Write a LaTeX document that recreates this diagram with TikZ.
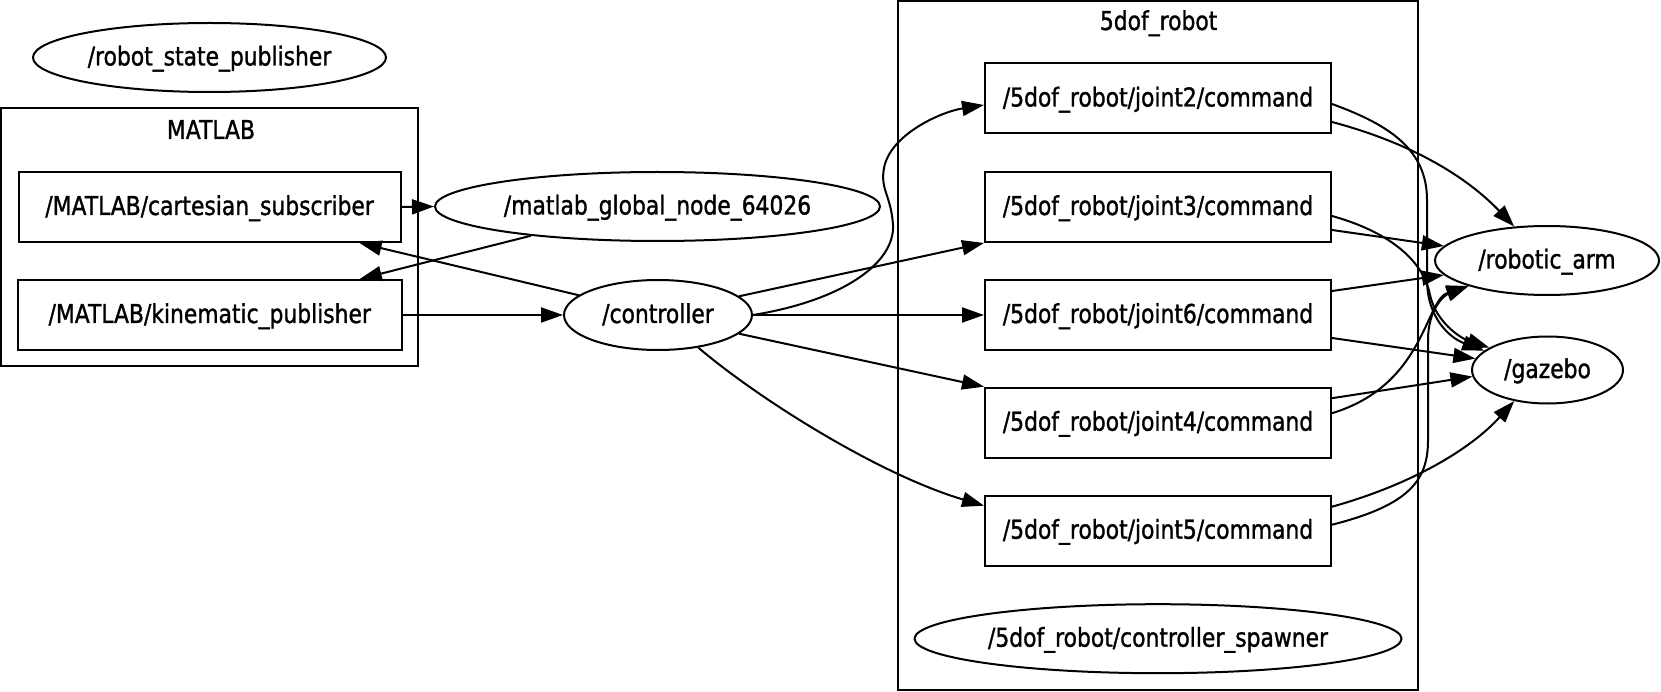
\documentclass[tikz,border=0pt]{standalone}
\usepackage{fontspec}
\setmainfont{DejaVu Sans}[FakeStretch=0.84,FakeBold=1.2]
\usetikzlibrary{shapes.geometric,arrows.meta,calc}
\begin{document}
\begin{tikzpicture}[x=1pt,y=-1pt,
  every node/.style={font=\fontsize{26pt}{30pt}\selectfont, text height=19pt, text depth=3pt, inner sep=0pt, line width=2pt},
  boxn/.style={draw, rectangle, minimum width=346pt, minimum height=70pt},
  elln/.style={draw, ellipse},
  edge/.style={line width=2pt, -{Triangle[length=22pt,width=15pt]}},
  clus/.style={draw, line width=2pt}]
\useasboundingbox (0,0) rectangle (1661,692);
% clusters
\draw[clus] (1,108) rectangle (418,366);
\node (matlablbl) at (211,131) {MATLAB};
\draw[clus] (898,1) rectangle (1418,690);
\node (robotlbl) at (1158.6,22) {5dof\_robot};
% nodes
\node[elln, minimum width=353pt, minimum height=69pt] (rsp) at (209.5,57.5) {/robot\_state\_publisher};
\node[boxn, minimum width=382pt] (cart) at (209.6,207) {/MATLAB/cartesian\_subscriber};
\node[boxn, minimum width=384.5pt] (kin) at (209.75,315) {/MATLAB/kinematic\_publisher};
\node[elln, minimum width=445pt, minimum height=69pt] (mgn) at (657.5,206.5) {/matlab\_global\_node\_64026};
\node[elln, minimum width=188pt, minimum height=70pt] (ctrl) at (658,315) {/controller};
\node[boxn] (j2) at (1158,98.5) {/5dof\_robot/joint2/command};
\node[boxn] (j3) at (1158,207) {/5dof\_robot/joint3/command};
\node[boxn] (j6) at (1158,315) {/5dof\_robot/joint6/command};
\node[boxn] (j4) at (1158,422.7) {/5dof\_robot/joint4/command};
\node[boxn] (j5) at (1158,530.7) {/5dof\_robot/joint5/command};
\node[elln, minimum width=487pt, minimum height=69pt] (spawn) at (1158,638.7) {/5dof\_robot/controller\_spawner};
\node[elln, minimum width=224pt, minimum height=69pt] (arm) at (1547,260.5) {/robotic\_arm};
\node[elln, minimum width=151pt, minimum height=67pt] (gaz) at (1547.5,370) {/gazebo};
% edges left
\draw[edge] (cart.east) -- (mgn.west);
\draw[edge] (mgn.193) -- ($(kin.north)+(150,0)$);
\draw[edge] (ctrl.166) -- ($(cart.south)+(150,0)$);
\draw[edge] (kin.east) -- (ctrl.west);
% controller to joints
\draw[edge] (ctrl.east) .. controls (845,300) and (895,262) .. (893,225)
  .. controls (891,195) and (880,190) .. (884,168)
  .. controls (890,135) and (940,112) .. ($(j2.west)+(0,6.5)$);
\draw[edge] (ctrl.13) -- (j3.south west);
\draw[edge] (ctrl.east) -- (j6.west);
\draw[edge] (ctrl.-13) -- (j4.north west);
\draw[edge] (ctrl.-39) .. controls (760,400) and (880,475) .. ($(j5.west)+(0,-25)$);
% joints to arm / gazebo
\draw[edge] ($(j2.east)+(0,23.5)$) .. controls (1400,140) and (1460,170) .. (arm.134);
\draw[edge] ($(j2.east)+(0,5.5)$) .. controls (1390,125) and (1427,150) .. (1427,200)
  -- (1427,280) .. controls (1427,318) and (1450,338) .. (gaz.163);
\draw[edge] ($(j3.east)+(0,23)$) -- (arm.172);
\draw[edge] ($(j3.east)+(0,9)$) .. controls (1400,235) and (1425,268) .. (1430,295)
  .. controls (1436,322) and (1460,338) .. (gaz.159);
\draw[edge] ($(j6.east)+(0,-24)$) -- (arm.188);
\draw[edge] ($(j6.east)+(0,23)$) -- (gaz.171);
\draw[edge] ($(j4.east)+(0,-24.5)$) -- (gaz.185);
\draw[edge] ($(j4.east)+(0,-9.5)$) .. controls (1425,385) and (1425,300) .. (arm.198);
\draw[edge] ($(j5.east)+(0,-24)$) .. controls (1410,485) and (1470,450) .. (gaz.223);
\draw[edge] ($(j5.east)+(0,-6)$) .. controls (1410,505) and (1428,480) .. (1428,440)
  -- (1428,340) .. controls (1428,308) and (1445,295) .. (arm.198);
\end{tikzpicture}
\end{document}
